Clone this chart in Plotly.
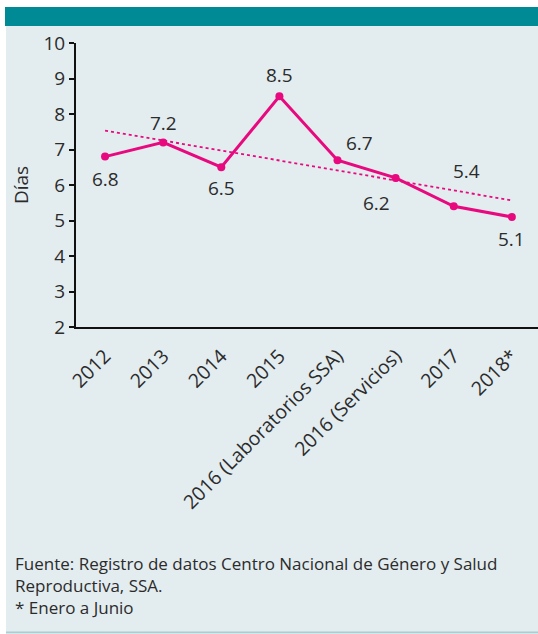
import numpy as np
import plotly.graph_objects as go

categories = ["2012", "2013", "2014", "2015", "2016 (Laboratorios SSA)",
              "2016 (Servicios)", "2017", "2018*"]
values = [6.8, 7.2, 6.5, 8.5, 6.7, 6.2, 5.4, 5.1]
y_ticks = [2, 3, 4, 5, 6, 7, 8, 9, 10]
# label offsets in pixels (x, y) relative to each point
label_shifts = [(0, -22), (0, 19), (0, -21), (0, 21), (22, 17), (-19, -25), (13, 35), (0, -22)]

PINK = "#E8097F"
TEAL = "#008A96"
BG = "#E3ECEF"
TXT = "#2b2b2b"
FONT = "Open Sans"

# linear trend (least squares) over category index
xi = np.arange(len(values))
slope, intercept = np.polyfit(xi, values, 1)
trend = [intercept + slope * i for i in xi]

fig = go.Figure()
fig.add_trace(go.Scatter(x=categories, y=trend, mode="lines",
                         line=dict(color=PINK, width=1.8, dash="dot"),
                         hoverinfo="skip", showlegend=False))
fig.add_trace(go.Scatter(x=categories, y=values, mode="lines+markers",
                         line=dict(color=PINK, width=3),
                         marker=dict(color=PINK, size=8),
                         showlegend=False))

for i, (v, (dx, dy)) in enumerate(zip(values, label_shifts)):
    fig.add_annotation(x=i, y=v, xref="x", yref="y", text=f"{v:.1f}", showarrow=False,
                       xshift=dx, yshift=dy,
                       font=dict(family=FONT, size=19, color=TXT))

# plot area: x 76..538, y 43..327
L, R, T, B = 76, 538, 43, 327
W, H = R - L, B - T
def px(x): return (x - L) / W
def py(y): return (B - y) / H

shapes = [
    dict(type="rect", xref="paper", yref="paper", x0=px(6), x1=px(538), y0=py(632), y1=py(26),
         fillcolor=BG, line_width=0, layer="below"),
    dict(type="rect", xref="paper", yref="paper", x0=px(5), x1=px(538), y0=py(26), y1=py(7),
         fillcolor=TEAL, line_width=0, layer="below"),
    dict(type="line", xref="paper", yref="paper", x0=px(6), x1=px(538), y0=py(632.5), y1=py(632.5),
         line=dict(color="#A9CDD2", width=2), layer="below"),
]

fig.add_annotation(xref="paper", yref="paper", x=px(13), y=py(550), xanchor="left", yanchor="top",
                   align="left", showarrow=False,
                   text="Fuente: Registro de datos Centro Nacional de Género y Salud<br>"
                        "Reproductiva, SSA.<br>* Enero a Junio",
                   font=dict(family=FONT, size=17, color=TXT))

fig.update_layout(
    width=538, height=634,
    margin=dict(l=L, r=538 - R, t=T, b=634 - B, pad=0),
    paper_bgcolor="white", plot_bgcolor=BG,
    shapes=shapes,
    font=dict(family=FONT, size=18, color=TXT),
    xaxis=dict(type="category", range=[-0.5, 7.45], tickangle=-45, showline=True, linecolor="#111",
               linewidth=2, ticks="", showgrid=False, zeroline=False, ticklabelstandoff=8,
               tickfont=dict(family=FONT, size=19.5, color=TXT)),
    yaxis=dict(range=[2, 10], tickvals=y_ticks, showline=True, linecolor="#111",
               linewidth=2, ticks="outside", ticklen=5, tickwidth=2, tickcolor="#111",
               showgrid=False, zeroline=False,
               title=dict(text="Días", font=dict(family=FONT, size=19, color=TXT), standoff=10),
               tickfont=dict(family=FONT, size=19, color=TXT)),
)

fig.write_html("out.html", config={"displayModeBar": False},
               post_script="document.body.style.margin='0';document.body.style.padding='0';")
